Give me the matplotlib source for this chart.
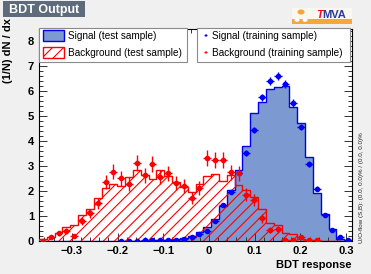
import numpy as np
import matplotlib
matplotlib.use("Agg")
import matplotlib.pyplot as plt
from matplotlib.patches import Rectangle, Circle
from matplotlib.ticker import MultipleLocator

plt.rcParams['font.family'] = ['Liberation Sans', 'DejaVu Sans']
plt.rcParams['hatch.linewidth'] = 0.8

# ---------------- data ----------------
x_min, x_max, n_bins = -0.372, 0.313, 40

sig_test = [0, 0, 0, 0, 0, 0, 0, 0, 0, 0,
            0.01, 0.01, 0.01, 0.02, 0.02, 0.03, 0.04, 0.07, 0.13, 0.22,
            0.37, 0.58, 0.90, 1.40, 2.05, 2.85, 3.80, 5.13, 5.55, 6.10,
            6.15, 6.20, 5.37, 4.72, 3.37, 1.93, 1.08, 0.47, 0.10, 0.05]
bkg_test = [0.07, 0.17, 0.33, 0.58, 0.64, 1.04, 1.30, 1.72, 2.13, 2.30,
            2.20, 2.57, 2.84, 2.64, 2.50, 2.84, 2.60, 2.37, 2.17, 1.97,
            2.30, 2.60, 2.67, 2.40, 2.65, 2.25, 2.05, 1.75, 1.30, 0.72,
            0.64, 0.31, 0.30, 0.10, 0.03, 0.02, 0.01, 0.01, 0.0, 0.0]
sig_train = [0, 0, 0, 0, 0, 0, 0, 0, 0, 0,
             0.02, 0.02, 0.02, 0.03, 0.03, 0.03, 0.04, 0.05, 0.08, 0.15,
             0.27, 0.40, 0.81, 1.44, 1.97, 2.71, 3.52, 4.44, 5.75, 6.41,
             6.61, 6.28, 5.53, 4.57, 3.08, 2.10, 1.04, 0.44, 0.15, 0.05]
sig_train_err = [0, 0, 0, 0, 0, 0, 0, 0, 0, 0,
                 0.01, 0.01, 0.01, 0.01, 0.01, 0.01, 0.01, 0.01, 0.02, 0.02,
                 0.03, 0.04, 0.06, 0.07, 0.09, 0.10, 0.12, 0.13, 0.15, 0.16,
                 0.16, 0.16, 0.15, 0.13, 0.11, 0.09, 0.06, 0.04, 0.02, 0.01]
bkg_train = [0.02, 0.15, 0.31, 0.40, 0.21, 0.81, 1.11, 1.51, 2.35, 2.77,
             2.51, 2.28, 3.11, 2.64, 3.10, 2.57, 2.71, 2.33, 2.20, 1.74,
             2.12, 3.33, 3.25, 3.24, 2.75, 2.71, 1.86, 1.66, 0.91, 0.46,
             0.47, 0.03, 0.05, 0.17, 0.04, 0.03, 0, 0, 0, 0]
bkg_train_err = [0.03, 0.07, 0.10, 0.12, 0.08, 0.16, 0.19, 0.22, 0.28, 0.30,
                 0.29, 0.28, 0.32, 0.30, 0.32, 0.29, 0.30, 0.28, 0.27, 0.24,
                 0.27, 0.33, 0.33, 0.33, 0.30, 0.30, 0.25, 0.24, 0.17, 0.12,
                 0.13, 0.03, 0.04, 0.08, 0.04, 0.03, 0, 0, 0, 0]

legend_labels = ["Signal (test sample)", "Background (test sample)",
                 "Signal (training sample)", "Background (training sample)"]
x_ticks = [-0.3, -0.2, -0.1, 0.0, 0.1, 0.2, 0.3]
y_ticks = [0, 1, 2, 3, 4, 5, 6, 7, 8]

# ---------------- figure ----------------
W, H = 371, 274
fig = plt.figure(figsize=(W / 100, H / 100), dpi=100, facecolor='#f0f0f0')

def fx(px):
    return px / W

def fy(py):
    return 1 - py / H

ax = fig.add_axes([fx(39), fy(241), fx(352) - fx(39), fy(29) - fy(241)])
ax.set_facecolor('white')

edges = np.linspace(x_min, x_max, n_bins + 1)
centers = 0.5 * (edges[:-1] + edges[1:])
bw = edges[1] - edges[0]

SIG_FILL = '#7d99d1'
SIG_LINE = '#0000ee'
BKG = '#ff0000'

# signal test (filled)
ax.stairs(sig_test, edges, fill=True, facecolor=SIG_FILL, edgecolor='none', zorder=1)
ax.stairs(sig_test, edges, fill=False, edgecolor=SIG_LINE, linewidth=1.0, zorder=2)
# background test (hatched)
ax.stairs(bkg_test, edges, fill=True, facecolor='none', edgecolor=BKG,
          hatch='///', linewidth=0, zorder=3)
ax.stairs(bkg_test, edges, fill=False, edgecolor=BKG, linewidth=1.0, zorder=4)

# training points
st = np.array(sig_train, dtype=float)
ste = np.array(sig_train_err, dtype=float)
m = st > 0
ax.errorbar(centers[m], st[m], yerr=ste[m], xerr=bw / 2, fmt='o', color='#0000ff',
            ms=3, elinewidth=1.0, capsize=0, zorder=5)
bt = np.array(bkg_train, dtype=float)
bte = np.array(bkg_train_err, dtype=float)
m = bt > 0
ax.errorbar(centers[m], bt[m], yerr=bte[m], xerr=bw / 2, fmt='o', color=BKG,
            ms=3, elinewidth=1.0, capsize=0, zorder=6)

ax.set_xlim(x_min, x_max)
ax.set_ylim(0, 212 / 25)
ax.set_xticks(x_ticks)
ax.set_xticklabels([f"{v:.1f}".replace('-', '\u2212') if v != 0 else "0" for v in x_ticks])
ax.set_yticks(y_ticks)
ax.xaxis.set_minor_locator(MultipleLocator(0.02))
ax.yaxis.set_minor_locator(MultipleLocator(0.2))
ax.tick_params(which='both', direction='in', top=True, right=True, color='#333333', width=0.7)
ax.tick_params(which='major', length=5.5, labelsize=8, pad=3.5)
ax.tick_params(which='minor', length=2.8)
for lab in ax.get_xticklabels() + ax.get_yticklabels():
    lab.set_fontweight('bold')
for sp in ax.spines.values():
    sp.set_linewidth(0.8)

# axis titles
fig.text(fx(352), fy(265), "BDT response", ha='right', va='center',
         fontsize=8, fontweight='bold')
fig.text(fx(8), fy(18), "(1/N) dN / dx", ha='center', va='top', rotation=90,
         fontsize=8, fontweight='bold')

# overflow text
fig.text(fx(362), fy(243), "U/O-flow (S,B): (0.0, 0.0)% / (0.0, 0.0)%",
         rotation=90, ha='center', va='bottom', fontsize=4.5, color='#222222')

# title box
fig.add_artist(Rectangle((fx(3), fy(17)), fx(85) - fx(3), fy(1) - fy(17),
                         transform=fig.transFigure, facecolor='#5d6b7d',
                         edgecolor='none'))
fig.text(fx(9), fy(9.5), "BDT Output", ha='left', va='center', color='white',
         fontsize=9, fontweight='bold')

# TMVA logo
fig.add_artist(Rectangle((fx(292), fy(24)), fx(352) - fx(292), fy(8) - fy(24),
                         transform=fig.transFigure, facecolor='#fbf6ee', edgecolor='none'))
fig.add_artist(Rectangle((fx(292), fy(24)), fx(352) - fx(292), fy(19) - fy(24),
                         transform=fig.transFigure, facecolor='#f6a73c', edgecolor='none'))
fig.add_artist(Circle((fx(301), fy(12)), 3.5 / W, transform=fig.transFigure,
                      facecolor='#f6a73c', edgecolor='none'))
fig.add_artist(Circle((fx(297), fy(20)), 2.5 / W, transform=fig.transFigure,
                      facecolor='white', edgecolor='none'))
fig.add_artist(Circle((fx(305), fy(20)), 2.5 / W, transform=fig.transFigure,
                      facecolor='white', edgecolor='none'))
fig.text(fx(316), fy(14.5), "T", ha='left', va='center', color='#e8141c',
         fontsize=8, fontweight='bold', fontstyle='italic')
fig.text(fx(322.5), fy(14.5), "MVA", ha='left', va='center', color='#2a3a9c',
         fontsize=8, fontweight='bold')

# legends (two boxes)
def box(x0, x1, y0, y1):
    fig.add_artist(Rectangle((fx(x0), fy(y1)), fx(x1) - fx(x0), fy(y0) - fy(y1),
                             transform=fig.transFigure, facecolor='white',
                             edgecolor='#8a8a8a', linewidth=0.8, zorder=10))

box(39, 187, 28, 62)
box(197, 350, 28, 62)

fig.add_artist(Rectangle((fx(43), fy(40.5)), fx(64) - fx(43), fy(30) - fy(40.5),
                         transform=fig.transFigure, facecolor=SIG_FILL,
                         edgecolor=SIG_LINE, linewidth=1.0, zorder=11))
fig.add_artist(Rectangle((fx(43), fy(57.5)), fx(64) - fx(43), fy(47) - fy(57.5),
                         transform=fig.transFigure, facecolor='white',
                         edgecolor=BKG, hatch='///', linewidth=1.0, zorder=11))
fig.text(fx(68), fy(35.7), legend_labels[0], ha='left', va='center', fontsize=7.2, zorder=12)
fig.text(fx(68), fy(52.7), legend_labels[1], ha='left', va='center', fontsize=7.2, zorder=12)

fig.add_artist(Circle((fx(206), fy(35.5)), 1.5 / W, transform=fig.transFigure,
                      facecolor='#0000ff', edgecolor='none', zorder=11))
fig.add_artist(Circle((fx(206), fy(52.5)), 1.5 / W, transform=fig.transFigure,
                      facecolor=BKG, edgecolor='none', zorder=11))
fig.text(fx(212), fy(35.7), legend_labels[2], ha='left', va='center', fontsize=7.2, zorder=12)
fig.text(fx(212), fy(52.7), legend_labels[3], ha='left', va='center', fontsize=7.2, zorder=12)

fig.savefig("out.png", dpi=100, facecolor=fig.get_facecolor())
